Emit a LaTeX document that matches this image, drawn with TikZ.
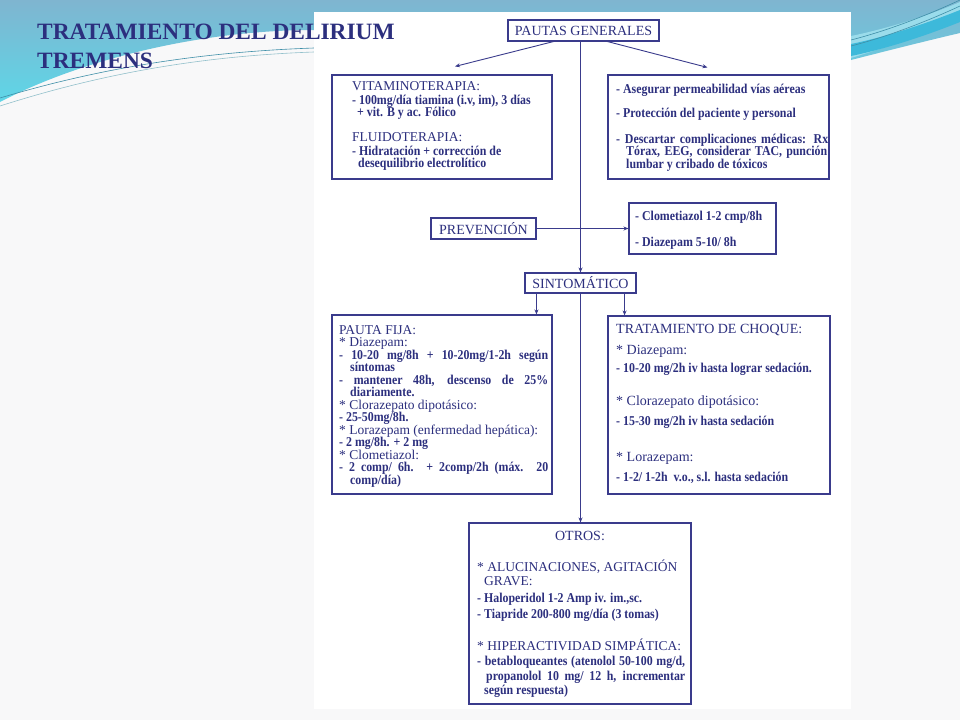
\documentclass[tikz,border=0pt]{standalone}
\usepackage{fontspec}
\setmainfont{Liberation Serif}
\newfontfamily\bodyfam[FakeStretch=0.88]{Liberation Serif Bold}
\usetikzlibrary{arrows.meta,calc}
\definecolor{navy}{HTML}{2C2F7E}
\definecolor{bordc}{HTML}{3A3B8C}
\definecolor{bgc}{HTML}{F8F8F9}
\definecolor{bandtop}{HTML}{7FB5D0}
\definecolor{bandbot}{HTML}{5ED6E7}
\definecolor{swA}{HTML}{3DB9DA}
\definecolor{swB}{HTML}{9ADCEB}
\definecolor{swL}{HTML}{3F8FA8}
\newcommand{\hdf}{\fontsize{13.5}{15}\selectfont}
\newcommand{\hdfb}{\fontsize{14}{15}\selectfont}
\newcommand{\bdf}{\bodyfam\fontsize{13.5}{15}\selectfont}
\newcommand{\jl}[2]{\makebox[#1pt][s]{#2}}
\begin{document}
\begin{tikzpicture}[x=1pt,y=-1pt,
 box/.style={draw=bordc,line width=1.1pt,rectangle,inner sep=0pt,text=navy,font=\hdfb},
 hd/.style={anchor=base west,inner sep=0pt,text=navy,font=\hdf},
 hdb/.style={anchor=base west,inner sep=0pt,text=navy,font=\hdfb},
 bd/.style={anchor=base west,inner sep=0pt,text=navy,font=\bdf},
 arr/.style={draw=bordc,line width=0.9pt,-{Stealth[length=5pt,width=4pt]}}]
\useasboundingbox (0,0) rectangle (960,720);
% background
\fill[bgc] (0,0) rectangle (960,720);
\shade[top color=bandtop,bottom color=bandbot] (0,0) -- (960,0) -- (960,33)
  .. controls (930,40) and (890,50) .. (851,60) -- (314,30)
  .. controls (200,30) and (80,60) .. (0,102) -- cycle;
\fill[swB] (851,36) .. controls (890,28) and (930,15) .. (960,2) -- (960,20)
  .. controls (930,32) and (890,46) .. (851,58) -- cycle;
\fill[swA] (851,44) .. controls (890,36) and (930,22) .. (960,10) -- (960,22)
  .. controls (930,34) and (890,48) .. (851,56) -- cycle;
\draw[swL,line width=0.6pt] (851,40) .. controls (890,30) and (930,14) .. (960,0);
\draw[swL,line width=0.6pt] (851,46) .. controls (890,36) and (930,20) .. (960,6);
\draw[swL,line width=0.6pt] (0,98) .. controls (100,68) and (200,52) .. (314,48);
\draw[swB!70!gray,line width=0.6pt] (0,106) .. controls (100,74) and (200,56) .. (314,52);
% panel
\fill[white] (314,12) rectangle (851,709);
% title
\node[anchor=base west,inner sep=0pt,text=navy,font=\fontsize{23.4}{28}\selectfont\bfseries] (title) at (37,39) {TRATAMIENTO DEL DELIRIUM};
\node[anchor=base west,inner sep=0pt,text=navy,font=\fontsize{23.4}{28}\selectfont\bfseries] (title2) at (37,68) {TREMENS};
% boxes
\node[box,minimum width=151,minimum height=21] (pg) at (583.5,30.5) {PAUTAS GENERALES};
\node[box,minimum width=220,minimum height=104] (vit) at (442,127) {};
\node[box,minimum width=221,minimum height=104] (ase) at (718.5,127) {};
\node[box,minimum width=105,minimum height=21] (prev) at (483.5,228.5) {PREVENCIÓN};
\node[box,minimum width=147,minimum height=51] (clo) at (702.5,228.5) {};
\node[box,minimum width=111,minimum height=20] (sint) at (580.5,283) {SINTOMÁTICO};
\node[box,minimum width=220,minimum height=179] (pf) at (442,404.5) {};
\node[box,minimum width=222,minimum height=178] (tc) at (719,405) {};
\node[box,minimum width=222,minimum height=181] (ot) at (580,613.5) {};
% connectors
\coordinate (sl) at ($(sint.south west)+(12,0)$);
\coordinate (sr) at ($(sint.south east)+(-12,0)$);
\draw[arr] ($(pg.south)+(-30,0)$) -- ($(vit.north)+(13,-8)$);
\draw[arr] ($(pg.south)+(24,0)$) -- ($(ase.north)+(-11,-7)$);
\draw[arr] (pg.south -| sint.north) -- (sint.north);
\draw[arr] (prev.east) -- (prev.east -| clo.west);
\draw[arr] (sl) -- (sl |- pf.north);
\draw[arr] (sr) -- (sr |- tc.north);
\draw[arr] (sint.south) -- (sint.south |- ot.north);
% vit text
\node[hd] (v1) at (352,90) {VITAMINOTERAPIA:};
\node[bd] (v2) at (352,104) {- 100mg/día tiamina (i.v, im), 3 días};
\node[bd] (v3) at (357,116) {+ vit. B y ac. Fólico};
\node[hd] (v4) at (352,141) {FLUIDOTERAPIA:};
\node[bd] (v5) at (352,155) {- Hidratación + corrección de};
\node[bd] (v6) at (358,167) {desequilibrio electrolítico};
% ase text
\node[bd] (a1) at (616,93.5) {- Asegurar permeabilidad vías aéreas};
\node[bd] (a2) at (616,117.5) {- Protección del paciente y personal};
\node[bd] (a3) at (616,143) {\jl{212}{- Descartar complicaciones médicas: Rx}};
\node[bd] (a4) at (626,155.5) {\jl{201}{Tórax, EEG, considerar TAC, punción}};
\node[bd] (a5) at (626,168) {lumbar y cribado de tóxicos};
% clo text
\node[bd] (c1) at (635,220) {- Clometiazol 1-2 cmp/8h};
\node[bd] (c2) at (635,246) {- Diazepam 5-10/ 8h};
% pauta fija text
\node[hd] (p1) at (339,334) {PAUTA FIJA:};
\node[hd] (p2) at (339,346.5) {* Diazepam:};
\node[bd] (p3) at (339,359) {\jl{209}{- 10-20 mg/8h + 10-20mg/1-2h según}};
\node[bd] (p4) at (350,371.5) {síntomas};
\node[bd] (p5) at (339,384) {\jl{209}{- mantener 48h, descenso de 25\%}};
\node[bd] (p6) at (350,396.5) {diariamente.};
\node[hd] (p7) at (339,409) {* Clorazepato dipotásico:};
\node[bd] (p8) at (339,421.5) {- 25-50mg/8h.};
\node[hd] (p9) at (339,434) {* Lorazepam (enfermedad hepática):};
\node[bd] (p10) at (339,446.5) {- 2 mg/8h. + 2 mg};
\node[hd] (p11) at (339,459) {* Clometiazol:};
\node[bd] (p12) at (339,471.5) {\jl{209}{- 2 comp/ 6h. + 2comp/2h (máx. 20}};
\node[bd] (p13) at (350,484) {comp/día)};
% choque text
\node[hdb] (t1) at (616,333) {TRATAMIENTO DE CHOQUE:};
\node[hdb] (t2) at (616,354) {* Diazepam:};
\node[bd] (t3) at (616,372) {- 10-20 mg/2h iv hasta lograr sedación.};
\node[hdb] (t4) at (616,405) {* Clorazepato dipotásico:};
\node[bd] (t5) at (616,425.5) {- 15-30 mg/2h iv hasta sedación};
\node[hdb] (t6) at (616,461) {* Lorazepam:};
\node[bd] (t7) at (616,481) {- 1-2/ 1-2h\ \ v.o., s.l. hasta sedación};
% otros text
\node[anchor=base,inner sep=0pt,text=navy,font=\hdfb] (o1) at (580,540) {OTROS:};
\node[hd] (o2) at (477,571) {* ALUCINACIONES, AGITACIÓN};
\node[hd] (o3) at (484,585) {GRAVE:};
\node[bd] (o4) at (477,602) {- Haloperidol 1-2 Amp iv. im.,sc.};
\node[bd] (o5) at (477,618.5) {- Tiapride 200-800 mg/día (3 tomas)};
\node[hd] (o6) at (477,650) {* HIPERACTIVIDAD SIMPÁTICA:};
\node[bd] (o7) at (477,665) {\jl{208}{- betabloqueantes (atenolol 50-100 mg/d,}};
\node[bd] (o8) at (486,680) {\jl{199}{propanolol 10 mg/ 12 h, incrementar}};
\node[bd] (o9) at (484,694) {según respuesta)};
\end{tikzpicture}
\end{document}
